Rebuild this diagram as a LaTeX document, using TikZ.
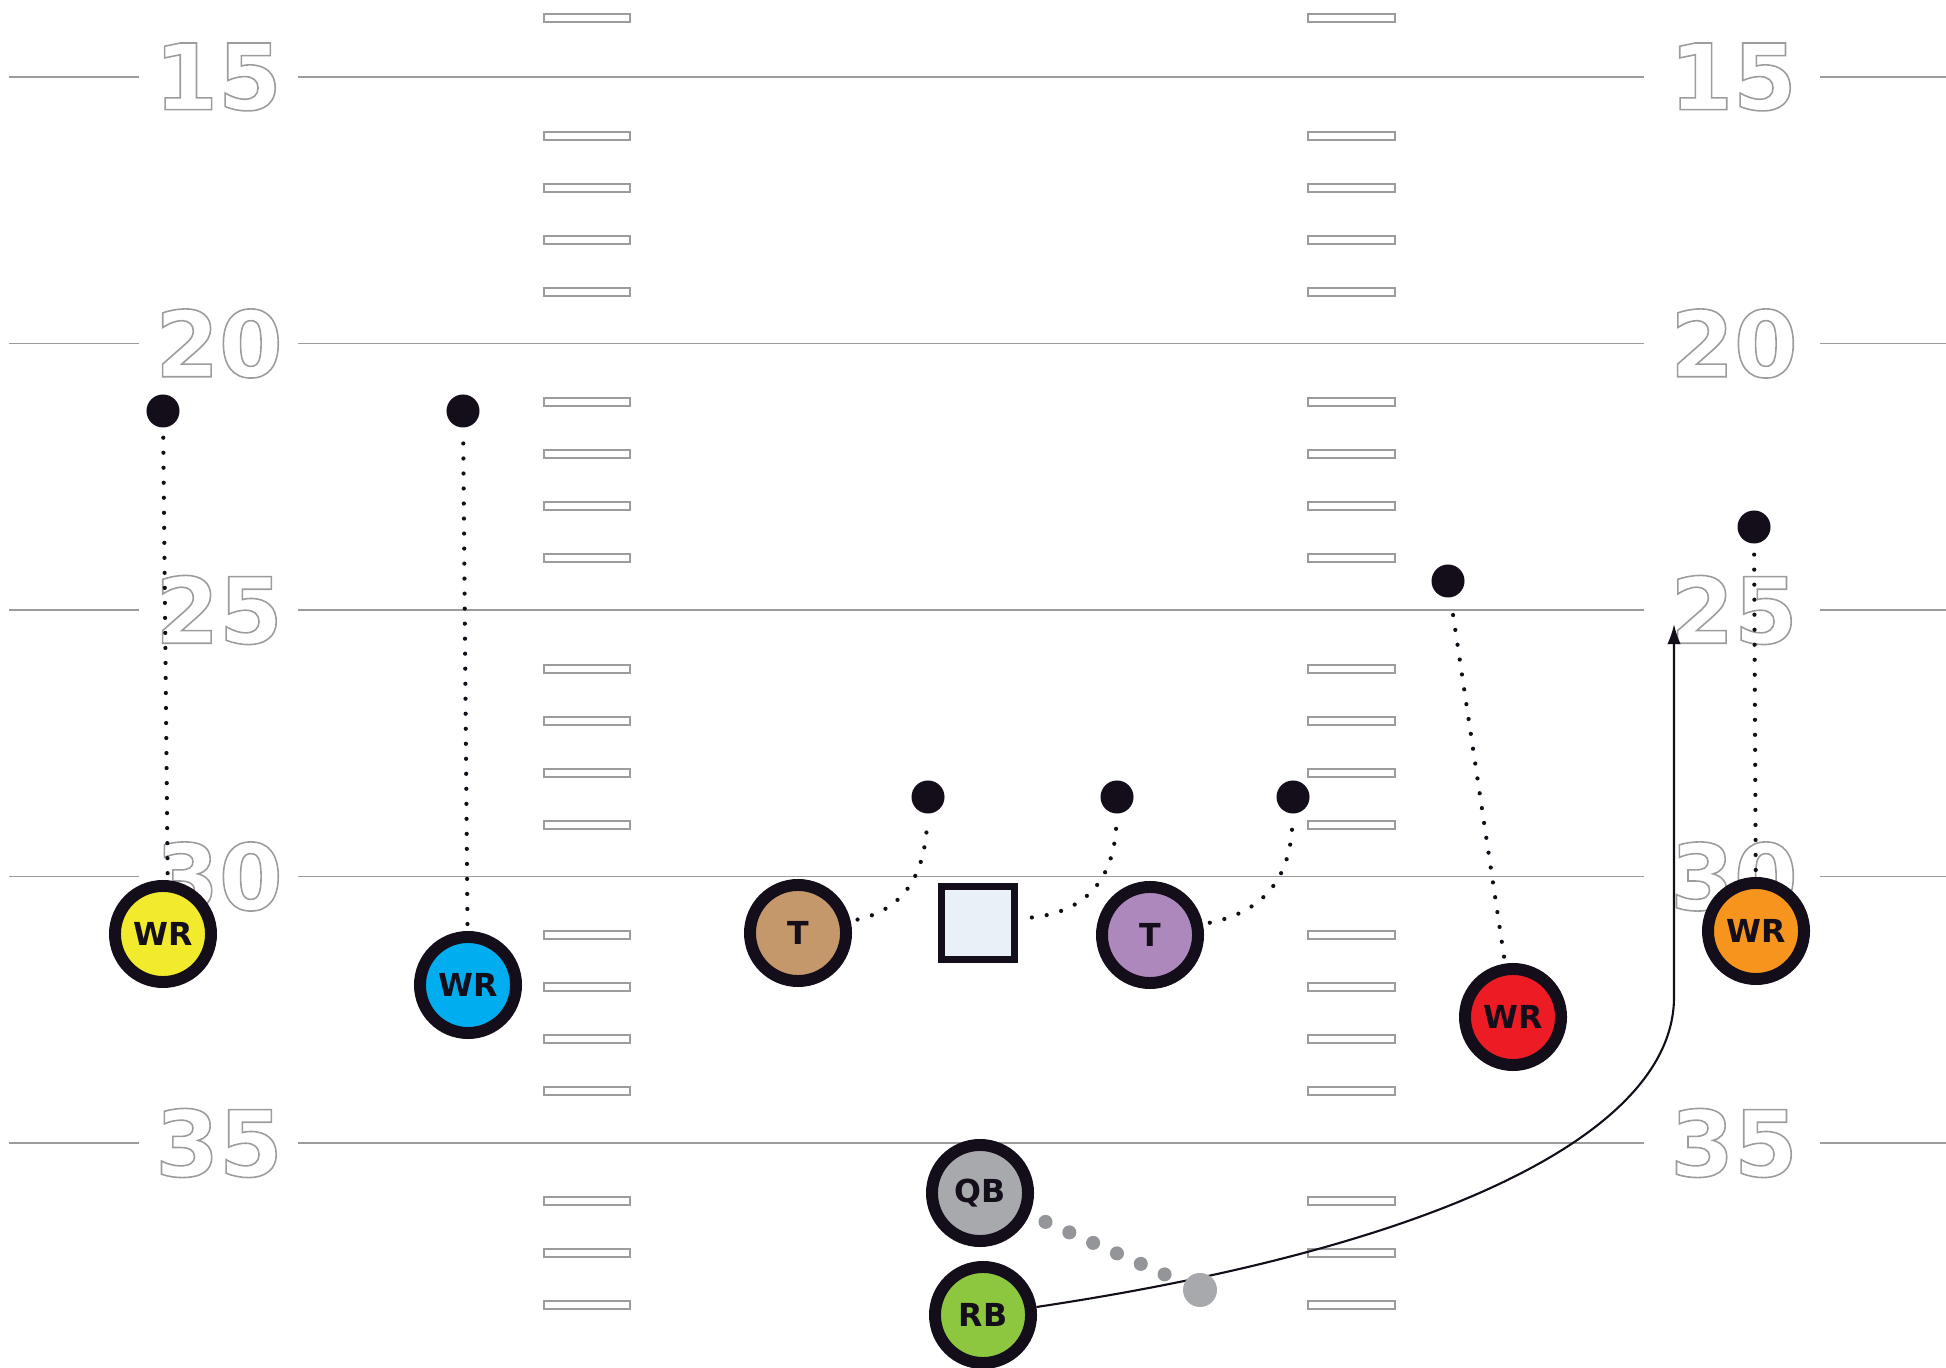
\documentclass[tikz,border=0pt]{standalone}
\usepackage{fontspec}
\setsansfont{DejaVu Sans}
\newfontfamily\yardfont{DejaVu Sans}
\usetikzlibrary{arrows.meta}
\definecolor{pbInk}{HTML}{140E1A}
\definecolor{pbLine}{HTML}{9C9C9C}
\definecolor{pbYellow}{HTML}{F2EA2C}
\definecolor{pbBlue}{HTML}{00AEEF}
\definecolor{pbTan}{HTML}{C4986A}
\definecolor{pbPurple}{HTML}{AD88BD}
\definecolor{pbRed}{HTML}{ED1C24}
\definecolor{pbOrange}{HTML}{F7941D}
\definecolor{pbSilver}{HTML}{A7A9AC}
\definecolor{pbGreen}{HTML}{8DC63F}
\definecolor{pbBall}{HTML}{EAF0F8}
\definecolor{pbHand}{HTML}{939598}
\newcommand\yardnum[1]{\special{pdf:literal direct q 1 Tr 0.45 w 0.612 0.612 0.612 RG}#1\special{pdf:literal direct Q}}
\tikzset{
  pb field/.style={x=0.01cm, y=-0.01cm},
  pb player/.style={circle, draw=pbInk, line width=3.4pt, minimum size=0.96cm,
    inner sep=0pt, font=\sffamily\bfseries\fontsize{9}{9}\selectfont, text=pbInk},
  pb snap/.style={rectangle, draw=pbInk, fill=pbBall, line width=1.9pt,
    minimum size=0.73cm, inner sep=0pt},
  pb spot/.style={circle, fill=pbInk, minimum size=0.33cm, inner sep=0pt},
  pb handoff/.style={circle, fill=pbSilver, minimum size=0.34cm, inner sep=0pt},
  pb yard/.style={draw=pbLine, line width=0.43pt},
  pb hash/.style={draw=pbLine, fill=white, line width=0.4pt},
  pb number/.style={font=\yardfont\bfseries\fontsize{26}{26}\selectfont,
    text=pbLine, inner sep=0pt},
  pb route/.style={draw=pbInk, line width=1.2pt, line cap=round,
    dash pattern=on 0pt off 4.27pt, shorten <=2pt, shorten >=2pt},
  pb exchange/.style={draw=pbHand, line width=4pt, line cap=round,
    dash pattern=on 0pt off 7.4pt, shorten <=5pt, shorten >=5.5pt},
  pb run/.style={draw=pbInk, line width=0.6pt, -{Latex[length=5.7pt,width=3.8pt]}}
}
\begin{document}
\begin{tikzpicture}[pb field]
\useasboundingbox (0,0) rectangle (1946,1368);
\foreach \y in {77,343.5,610,876.5,1143}
  \draw[pb yard] (9,\y) -- (139,\y) (298,\y) -- (1644,\y) (1820,\y) -- (1946,\y);
\foreach \y in {18,136,188,240,292,402,454,506,558,669,721,773,825,935,987,1039,1091,1201,1253,1305}
  \draw[pb hash] (544,\y-4) rectangle (630,\y+4) (1308,\y-4) rectangle (1395,\y+4);
\node[pb number] (numA) at (218,77) {\yardnum{15}};
\node[pb number] (numB) at (219,343.5) {\yardnum{20}};
\node[pb number] (numC) at (219,610) {\yardnum{25}};
\node[pb number] (numD) at (219,876.5) {\yardnum{30}};
\node[pb number] (numE) at (219,1143) {\yardnum{35}};
\node[pb number] (numF) at (1733,77) {\yardnum{15}};
\node[pb number] (numG) at (1734,343.5) {\yardnum{20}};
\node[pb number] (numH) at (1734,610) {\yardnum{25}};
\node[pb number] (numI) at (1734,876.5) {\yardnum{30}};
\node[pb number] (numJ) at (1734,1143) {\yardnum{35}};
\node[pb spot] (tgA) at (163,411) {};
\node[pb spot] (tgB) at (463,411) {};
\node[pb spot] (tgC) at (928,797) {};
\node[pb spot] (tgD) at (1117,797) {};
\node[pb spot] (tgE) at (1293,797) {};
\node[pb spot] (tgF) at (1448,581) {};
\node[pb spot] (tgG) at (1754,527) {};
\node[pb player,fill=pbYellow] (wrA) at (163,934) {WR};
\node[pb player,fill=pbBlue] (wrB) at (468,985) {WR};
\node[pb player,fill=pbTan] (teA) at (798,933) {T};
\node[pb snap] (ball) at (978,923) {};
\node[pb player,fill=pbPurple] (teB) at (1150,935) {T};
\node[pb player,fill=pbRed] (wrC) at (1513,1017) {WR};
\node[pb player,fill=pbOrange] (wrD) at (1756,931) {WR};
\node[pb player,fill=pbSilver] (qb) at (980,1193) {QB};
\node[pb player,fill=pbGreen] (rb) at (983,1315) {RB};
\coordinate (rbTurn) at (1674,997);
\coordinate (rbEnd) at (1674,624);
\draw[pb route] (wrA.85) -- (tgA);
\draw[pb route] (wrB) -- (tgB);
\draw[pb route] (teA) .. controls (900,910) and (925,880) .. (tgC);
\draw[pb route,shorten <=4pt] (ball) .. controls (1085,912) and (1115,880) .. (tgD);
\draw[pb route] (teB) .. controls (1262,912) and (1291,880) .. (tgE);
\draw[pb route] (wrC) -- (tgF);
\draw[pb route] (wrD) -- (tgG);
\draw[pb run] (rb) .. controls (1450,1245) and (1674,1130) .. (rbTurn) -- (rbEnd);
\node[pb handoff] (mesh) at (1200,1290) {};
\draw[pb exchange] (qb) -- (mesh);
\end{tikzpicture}
\end{document}
